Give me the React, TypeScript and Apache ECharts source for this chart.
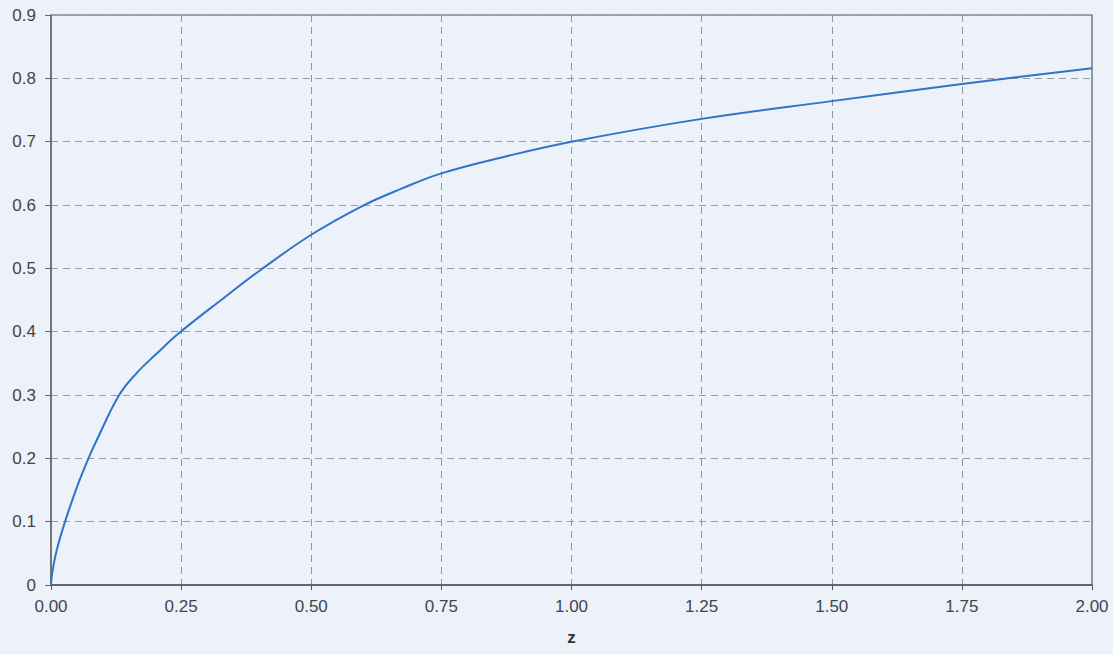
import React, { useEffect, useRef } from "react";
import * as echarts from "echarts";

const zValues = [0, 0.0025, 0.011, 0.027, 0.05, 0.072, 0.088, 0.131, 0.165, 0.2, 0.245, 0.33, 0.402, 0.5, 0.597, 0.671, 0.75, 0.875, 1.0, 1.25, 1.5, 1.75, 2.0];
const yValues = [0, 0.02, 0.055, 0.1, 0.155, 0.2, 0.229, 0.3, 0.335, 0.363, 0.397, 0.452, 0.497, 0.553, 0.598, 0.625, 0.65, 0.677, 0.7, 0.736, 0.764, 0.791, 0.816];
const xAxisName = "z";

export default function App() {
  const ref = useRef<HTMLDivElement>(null);
  useEffect(() => {
    if (!ref.current) return;
    const chart = echarts.init(ref.current, undefined, { renderer: "svg" });
    const font = "'Liberation Sans', Arial, sans-serif";
    chart.setOption({
      animation: false,
      backgroundColor: "#edf1f9",
      textStyle: { fontFamily: font },
      grid: {
        left: 51, right: 21, top: 15, bottom: 69,
        show: true, borderColor: "#5a5a5a", borderWidth: 1.2, backgroundColor: "transparent",
      },
      xAxis: {
        type: "value", min: 0, max: 2, interval: 0.25,
        name: xAxisName, nameLocation: "middle", nameGap: 44,
        nameTextStyle: { fontSize: 17, fontWeight: "bold", color: "#333", fontFamily: font },
        axisLine: { show: true, lineStyle: { color: "#44555a", width: 1.5 } },
        axisTick: { show: true, length: 5, lineStyle: { color: "#555" } },
        axisLabel: { fontSize: 17, color: "#3d4650", margin: 13, formatter: (v: number) => v.toFixed(2), fontFamily: font },
        splitLine: { show: true, lineStyle: { color: "#8e959c", type: [7, 5], width: 1 } },
      },
      yAxis: {
        type: "value", min: 0, max: 0.9, interval: 0.1,
        axisLine: { show: true, lineStyle: { color: "#6a6a6a", width: 1.5 } },
        axisTick: { show: true, length: 6, lineStyle: { color: "#666" } },
        axisLabel: { fontSize: 17, color: "#444", margin: 15, formatter: (v: number) => (v === 0 ? "0" : v.toFixed(1)), fontFamily: font },
        splitLine: { show: true, lineStyle: { color: "#9a9ca0", type: [7, 5], width: 1 } },
      },
      series: [
        {
          type: "line",
          data: zValues.map((z, i) => [z, yValues[i]]),
          showSymbol: false,
          smooth: 0.4,
          lineStyle: { color: "#2f74c8", width: 2 },
        },
      ],
    });
    return () => chart.dispose();
  }, []);
  return <div ref={ref} style={{ width: 1113, height: 654, position: "absolute", left: 0, top: 0 }} />;
}
